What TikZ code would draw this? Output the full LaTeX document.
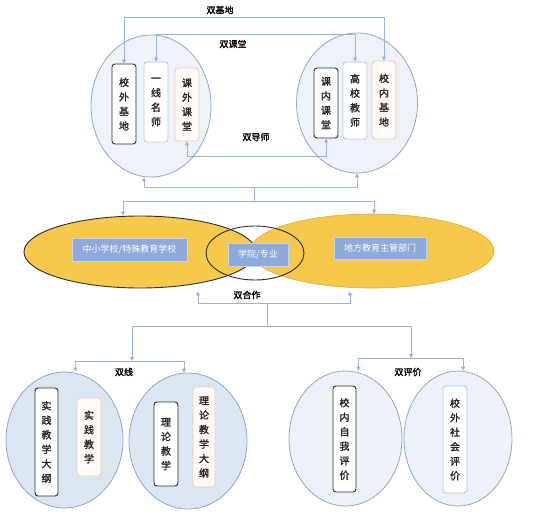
\documentclass[tikz,border=0pt]{standalone}
\usepackage{fontspec}
\setmainfont{Noto Sans CJK SC}[AutoFakeBold=1.6]
\usetikzlibrary{shapes.geometric,arrows.meta}

\definecolor{linec}{HTML}{9CB2D8}
\definecolor{ringc}{HTML}{8FA8D0}
\definecolor{topf}{HTML}{EEF3FA}
\definecolor{botf}{HTML}{DCE6F3}
\definecolor{lowf}{HTML}{EDF2F9}
\definecolor{darkc}{HTML}{2E2E2E}
\definecolor{lblue}{HTML}{B7CAE8}
\definecolor{peachc}{HTML}{F0CDBB}
\definecolor{peachf}{HTML}{FFFAF5}
\definecolor{gold}{HTML}{F6C94C}
\definecolor{goldd}{HTML}{D8AE3E}
\definecolor{tagc}{HTML}{8EA9DA}
\definecolor{tagb}{HTML}{C4D3EE}

\begin{document}
\begin{tikzpicture}[x=1pt,y=-1pt,
  every node/.style={font=\fontsize{10}{14.5}\selectfont},
  link/.style={draw=linec,line width=0.9pt},
  arr/.style={link,-{Triangle[length=4pt,width=4pt]}},
  ring/.style={ellipse,draw=ringc,line width=0.8pt,inner sep=0pt},
  vbox/.style={rectangle,rounded corners=3pt,line width=0.9pt,minimum width=24pt,inner sep=1pt,align=center,text=black!85,font=\fontsize{10}{14.5}\selectfont\bfseries},
  dark/.style={vbox,draw=darkc,fill=white},
  blueb/.style={vbox,draw=lblue,fill=white},
  peach/.style={vbox,draw=peachc,fill=peachf},
  tag/.style={rectangle,fill=tagc,draw=tagb,line width=0.8pt,text=white,inner sep=1pt,font=\fontsize{9}{9}\selectfont},
  lab/.style={font=\fontsize{9}{9}\selectfont\bfseries}]
  \useasboundingbox[fill=white] (0,0) rectangle (550,531);

  % top circles
  \node[ring,fill=topf,minimum width=120pt,minimum height=142pt] (lc) at (151,106) {};
  \node[ring,fill=topf,minimum width=121pt,minimum height=140pt] (rc) at (357,103) {};
  \node[dark,minimum height=80pt] (xwjd) at (124,104) {校\\外\\基\\地};
  \node[blueb,minimum height=80pt] (yxms) at (156,102) {一\\线\\名\\师};
  \node[peach,minimum height=73pt] (kwkt) at (187,104.5) {课\\外\\课\\堂};
  \node[dark,minimum height=70pt] (knkt) at (326,103) {课\\内\\课\\堂};
  \node[blueb,minimum height=77pt] (gxjs) at (355,100.5) {高\\校\\教\\师};
  \node[peach,minimum height=78pt] (xnjd) at (384,100) {校\\内\\基\\地};

  \coordinate (jd) at (254,17);
  \coordinate (kt) at (254,34);
  \coordinate (ds) at (254,156);
  \draw[arr] (jd) -| (xwjd.north);
  \draw[arr] (jd) -| (xnjd.north);
  \draw[arr] (kt) -| (yxms.north);
  \draw[arr] (kt) -| (gxjs.north);
  \draw[arr] (ds) -| (kwkt.south);
  \draw[arr] (ds) -| (knkt.south);
  \node[lab] (ljd) at (220,10) {双基地};
  \node[lab] (lkt) at (233,44) {双课堂};
  \node[lab] (lds) at (256,137) {双导师};

  % cooperation ellipses
  \node[ellipse,fill=gold,draw=darkc,line width=0.9pt,minimum width=232pt,minimum height=72pt] (lell) at (140,252) {};
  \node[ellipse,fill=gold,draw=goldd,line width=0.6pt,minimum width=244pt,minimum height=74pt] (rell) at (372,251) {};
  \node[ellipse,draw=darkc,line width=0.9pt,minimum width=98pt,minimum height=54pt] (mell) at (255,253) {};
  \node[tag,minimum width=115pt,minimum height=23pt] (zxx) at (129.5,249.5) {中小学校/特殊教育学校};
  \node[tag,minimum width=60pt,minimum height=23pt] (xy) at (258,254.5) {学院/专业};
  \node[tag,minimum width=92pt,minimum height=22pt] (dfj) at (380,248) {地方教育主管部门};

  \coordinate (t1) at (254,187);
  \coordinate (t2) at (254,201);
  \draw[arr] (t1) -| ([xshift=-7pt]lc.south);
  \draw[arr] (t1) -| (rc.south);
  \draw[link] (t1) -- (t2);
  \draw[arr] (t2) -| ([xshift=-17pt]lell.north);
  \draw[arr] (t2) -| ([xshift=2pt]rell.north);

  \coordinate (h1) at (267,303);
  \coordinate (h2) at (267,326);
  \draw[arr] (h1) -| ([xshift=58pt,yshift=-3pt]lell.south);
  \draw[arr] (h1) -| ([xshift=-22pt,yshift=-3pt]rell.south);
  \draw[link] (h1) -- (h2);
  \node[lab] (lhz) at (247,295) {双合作};

  % bottom circles
  \node[ring,fill=botf,minimum width=117pt,minimum height=136pt] (c1) at (64.5,440) {};
  \node[ring,fill=botf,minimum width=118pt,minimum height=136pt] (c2) at (188,441) {};
  \node[ring,fill=lowf,minimum width=113pt,minimum height=135pt] (c3) at (345.5,438.5) {};
  \node[ring,fill=lowf,minimum width=108pt,minimum height=135pt] (c4) at (458,438.5) {};
  \node[dark,minimum width=23pt,minimum height=108pt] (sjdg) at (46.5,442) {实\\践\\教\\学\\大\\纲};
  \node[peach,minimum height=78pt] (sjjx) at (89,437) {实\\践\\教\\学};
  \node[dark,minimum height=84pt] (lljx) at (166,444) {理\\论\\教\\学};
  \node[peach,minimum width=22pt,minimum height=100pt] (lldg) at (204,437) {理\\论\\教\\学\\大\\纲};
  \node[dark,minimum width=23pt,minimum height=106pt] (xnzw) at (344.5,439) {校\\内\\自\\我\\评\\价};
  \node[blueb,minimum height=107pt] (xwsh) at (455,439.5) {校\\外\\社\\会\\评\\价};

  \coordinate (sx) at (132,361);
  \coordinate (sp) at (411,358);
  \draw[arr] (h2) -| (sx);
  \draw[arr] (h2) -| (sp);
  \draw[arr] (sx) -| ([xshift=11pt]c1.north);
  \draw[arr] (sx) -| ([xshift=-4pt]c2.north);
  \draw[arr] (sp) -| ([xshift=13pt]c3.north);
  \draw[arr] (sp) -| ([xshift=5pt]c4.north);
  \node[lab] (lsx) at (124,372) {双线};
  \node[lab] (lpj) at (408,372) {双评价};
\end{tikzpicture}
\end{document}
